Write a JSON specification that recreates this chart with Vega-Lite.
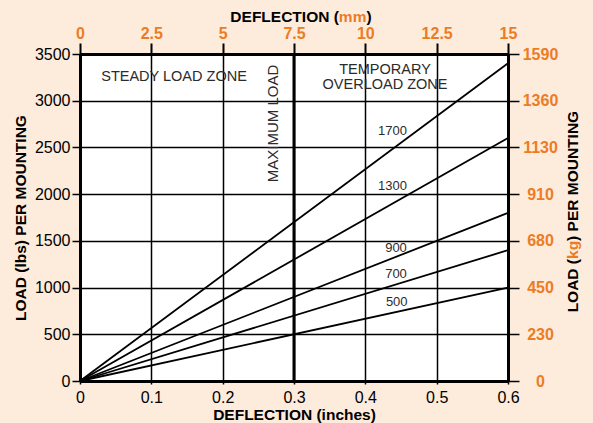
{
  "$schema": "https://vega.github.io/schema/vega-lite/v6.json",
  "width": 428,
  "height": 327,
  "autosize": {"type": "none"},
  "padding": {"left": 80, "top": 54, "right": 85, "bottom": 42},
  "background": "#fdebdc",
  "config": {"view": {"stroke": null, "fill": "#ffffff"}, "font": "Liberation Sans"},
  "datasets": {
    "lines": [
      {"series": "500", "deflection_in": 0, "load_lbs": 0},
      {"series": "500", "deflection_in": 0.6, "load_lbs": 1000},
      {"series": "700", "deflection_in": 0, "load_lbs": 0},
      {"series": "700", "deflection_in": 0.6, "load_lbs": 1400},
      {"series": "900", "deflection_in": 0, "load_lbs": 0},
      {"series": "900", "deflection_in": 0.6, "load_lbs": 1800},
      {"series": "1300", "deflection_in": 0, "load_lbs": 0},
      {"series": "1300", "deflection_in": 0.6, "load_lbs": 2600},
      {"series": "1700", "deflection_in": 0, "load_lbs": 0},
      {"series": "1700", "deflection_in": 0.6, "load_lbs": 3400}
    ],
    "lineLabels": [
      {"label": "1700", "deflection_in": 0.438, "load_lbs": 2681},
      {"label": "1300", "deflection_in": 0.438, "load_lbs": 2082},
      {"label": "900", "deflection_in": 0.443, "load_lbs": 1424},
      {"label": "700", "deflection_in": 0.443, "load_lbs": 1145},
      {"label": "500", "deflection_in": 0.444, "load_lbs": 846}
    ],
    "notes": [
      {"note": "STEADY LOAD ZONE", "deflection_in": 0.1318, "load_lbs": 3249},
      {"note": "TEMPORARY\nOVERLOAD ZONE", "deflection_in": 0.4276, "load_lbs": 3329}
    ]
  },
  "layer": [
    {
      "layer": [
        {
          "data": {"name": "lines"},
          "mark": {"type": "line", "color": "#000000", "strokeWidth": 1.8},
          "encoding": {
            "x": {
              "field": "deflection_in", "type": "quantitative",
              "scale": {"domain": [0, 0.6], "nice": false},
              "axis": {
                "orient": "bottom", "values": [0, 0.1, 0.2, 0.3, 0.4, 0.5, 0.6], "format": ".2~g",
                "title": "DEFLECTION (inches)",
                "grid": true, "gridColor": "#000000", "gridWidth": 1.5, "gridOpacity": 1,
                "domainColor": "#000000", "domainWidth": 3,
                "tickColor": "#000000", "tickWidth": 1.5, "tickSize": 3,
                "labelPadding": 5, "labelFont": "Liberation Sans", "labelFontSize": 16, "labelColor": "#000000",
                "labelFlush": false, "labelOverlap": false,
                "titleFont": "Liberation Sans", "titleFontSize": 15.5, "titleFontWeight": "bold", "titleColor": "#000000",
                "titlePadding": 2
              }
            },
            "y": {
              "field": "load_lbs", "type": "quantitative",
              "scale": {"domain": [0, 3500], "nice": false},
              "axis": {
                "orient": "left", "values": [0, 500, 1000, 1500, 2000, 2500, 3000, 3500], "format": "d",
                "title": "LOAD (lbs) PER MOUNTING",
                "grid": true, "gridColor": "#000000", "gridWidth": 1.5, "gridOpacity": 1,
                "domainColor": "#000000", "domainWidth": 3,
                "tickColor": "#000000", "tickWidth": 1.5, "tickSize": 8,
                "labelPadding": 2, "labelFont": "Liberation Sans", "labelFontSize": 16, "labelColor": "#000000",
                "labelFlush": false, "labelOverlap": false,
                "titleFont": "Liberation Sans", "titleFontSize": 15.5, "titleFontWeight": "bold", "titleColor": "#000000",
                "titlePadding": 6
              }
            },
            "detail": {"field": "series", "type": "nominal"}
          }
        },
        {
          "data": {"values": [{}]},
          "mark": {"type": "rule", "color": "#000000", "strokeWidth": 3},
          "encoding": {
            "x": {"datum": 0.3, "type": "quantitative", "scale": {"domain": [0, 0.6], "nice": false}}
          }
        },
        {
          "data": {"name": "lineLabels"},
          "mark": {"type": "text", "font": "Liberation Sans", "fontSize": 13, "color": "#2b2b2b", "align": "center", "baseline": "middle"},
          "encoding": {
            "x": {"field": "deflection_in", "type": "quantitative", "scale": {"domain": [0, 0.6], "nice": false}},
            "y": {"field": "load_lbs", "type": "quantitative", "scale": {"domain": [0, 3500], "nice": false}},
            "text": {"field": "label", "type": "nominal"}
          }
        },
        {
          "data": {"name": "notes"},
          "mark": {"type": "text", "font": "Liberation Sans", "fontSize": 14.5, "color": "#2b2b2b", "align": "center", "baseline": "middle", "lineBreak": "\n", "lineHeight": 15},
          "encoding": {
            "x": {"field": "deflection_in", "type": "quantitative", "scale": {"domain": [0, 0.6], "nice": false}},
            "y": {"field": "load_lbs", "type": "quantitative", "scale": {"domain": [0, 3500], "nice": false}},
            "text": {"field": "note", "type": "nominal"}
          }
        },
        {
          "data": {"values": [{}]},
          "mark": {"type": "text", "text": "MAXIMUM LOAD", "angle": 270, "font": "Liberation Sans", "fontSize": 15, "color": "#2b2b2b", "align": "center", "baseline": "middle"},
          "encoding": {
            "x": {"datum": 0.2699, "type": "quantitative", "scale": {"domain": [0, 0.6], "nice": false}},
            "y": {"datum": 2756, "type": "quantitative", "scale": {"domain": [0, 3500], "nice": false}}
          }
        },
        {
          "data": {"values": [{}]},
          "mark": {"type": "text", "text": "DEFLECTION (", "font": "Liberation Sans", "fontSize": 15.5, "fontWeight": "bold", "color": "#000000", "align": "right", "baseline": "alphabetic"},
          "encoding": {
            "x": {"datum": 0.3629, "type": "quantitative", "scale": {"domain": [0, 0.6], "nice": false}},
            "y": {"datum": 3843, "type": "quantitative", "scale": {"domain": [0, 3500], "nice": false}}
          }
        },
        {
          "data": {"values": [{}]},
          "mark": {"type": "text", "text": "mm", "font": "Liberation Sans", "fontSize": 15.5, "fontWeight": "bold", "color": "#ec7c24", "align": "left", "baseline": "alphabetic"},
          "encoding": {
            "x": {"datum": 0.3629, "type": "quantitative", "scale": {"domain": [0, 0.6], "nice": false}},
            "y": {"datum": 3843, "type": "quantitative", "scale": {"domain": [0, 3500], "nice": false}}
          }
        },
        {
          "data": {"values": [{}]},
          "mark": {"type": "text", "text": ")", "dx": 27.6, "font": "Liberation Sans", "fontSize": 15.5, "fontWeight": "bold", "color": "#000000", "align": "left", "baseline": "alphabetic"},
          "encoding": {
            "x": {"datum": 0.3629, "type": "quantitative", "scale": {"domain": [0, 0.6], "nice": false}},
            "y": {"datum": 3843, "type": "quantitative", "scale": {"domain": [0, 3500], "nice": false}}
          }
        },
        {
          "data": {"values": [{}]},
          "mark": {"type": "text", "text": "LOAD (", "angle": 270, "font": "Liberation Sans", "fontSize": 15.5, "fontWeight": "bold", "color": "#000000", "align": "right", "baseline": "middle"},
          "encoding": {
            "x": {"datum": 0.6911, "type": "quantitative", "scale": {"domain": [0, 0.6], "nice": false}},
            "y": {"datum": 1306, "type": "quantitative", "scale": {"domain": [0, 3500], "nice": false}}
          }
        },
        {
          "data": {"values": [{}]},
          "mark": {"type": "text", "text": "kg", "angle": 270, "font": "Liberation Sans", "fontSize": 15.5, "fontWeight": "bold", "color": "#ec7c24", "align": "left", "baseline": "middle"},
          "encoding": {
            "x": {"datum": 0.6911, "type": "quantitative", "scale": {"domain": [0, 0.6], "nice": false}},
            "y": {"datum": 1306, "type": "quantitative", "scale": {"domain": [0, 3500], "nice": false}}
          }
        },
        {
          "data": {"values": [{}]},
          "mark": {"type": "text", "text": ") PER MOUNTING", "angle": 270, "dx": 18.1, "font": "Liberation Sans", "fontSize": 15.5, "fontWeight": "bold", "color": "#000000", "align": "left", "baseline": "middle"},
          "encoding": {
            "x": {"datum": 0.6911, "type": "quantitative", "scale": {"domain": [0, 0.6], "nice": false}},
            "y": {"datum": 1306, "type": "quantitative", "scale": {"domain": [0, 3500], "nice": false}}
          }
        }
      ]
    },
    {
      "data": {"values": [{}]},
      "mark": {"type": "point", "opacity": 0},
      "encoding": {
        "x": {
          "datum": 0, "type": "quantitative",
          "scale": {"domain": [0, 15], "nice": false},
          "axis": {
            "orient": "top", "values": [0, 2.5, 5, 7.5, 10, 12.5, 15], "format": ".3~g", "title": null,
            "grid": false, "domainColor": "#000000", "domainWidth": 3,
            "tickColor": "#000000", "tickWidth": 2, "tickSize": 11,
            "labelPadding": 2, "labelFont": "Liberation Sans", "labelFontSize": 16, "labelFontWeight": "bold", "labelColor": "#ec7c24",
            "labelFlush": false, "labelOverlap": false
          }
        },
        "y": {
          "datum": 0, "type": "quantitative",
          "scale": {"domain": [0, 3500], "nice": false},
          "axis": {
            "orient": "right", "values": [0, 500, 1000, 1500, 2000, 2500, 3000, 3500],
            "labelExpr": "['0','230','450','680','910','1130','1360','1590'][round(datum.value/500)]",
            "title": null, "grid": false, "domainColor": "#000000", "domainWidth": 3,
            "tickColor": "#000000", "tickWidth": 1.5, "tickSize": 11,
            "labelAlign": "center", "labelPadding": 21, "labelFont": "Liberation Sans", "labelFontSize": 16, "labelFontWeight": "bold", "labelColor": "#ec7c24",
            "labelFlush": false, "labelOverlap": false
          }
        }
      }
    }
  ],
  "resolve": {"scale": {"x": "independent"}, "axis": {"x": "independent", "y": "independent"}}
}
